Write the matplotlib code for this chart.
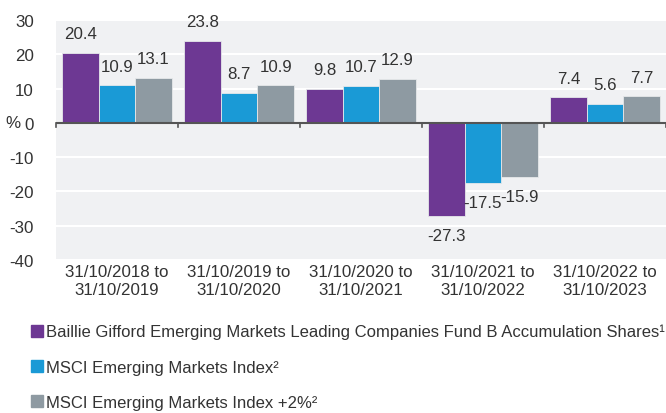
import matplotlib
matplotlib.use("Agg")
import matplotlib.pyplot as plt
from matplotlib.lines import Line2D
import numpy as np

plt.rcParams['font.family'] = ["Liberation Sans", 'DejaVu Sans']

periods = ["31/10/2018 to\n31/10/2019", "31/10/2019 to\n31/10/2020", "31/10/2020 to\n31/10/2021",
           "31/10/2021 to\n31/10/2022", "31/10/2022 to\n31/10/2023"]
fund = [20.4, 23.8, 9.8, -27.3, 7.4]
msci = [10.9, 8.7, 10.7, -17.5, 5.6]
msci2 = [13.1, 10.9, 12.9, -15.9, 7.7]
series_names = ["Baillie Gifford Emerging Markets Leading Companies Fund B Accumulation Shares\u00b9",
                "MSCI Emerging Markets Index\u00b2",
                "MSCI Emerging Markets Index +2%\u00b2"]
colors = ["#6d3893", "#1a9ad6", "#8e9aa2"]
yticks = [30, 20, 10, 0, -10, -20, -30, -40]

fig = plt.figure(figsize=(6.66, 4.14), dpi=100)
ax = fig.add_axes([56/666, (414-261)/414, 1-56/666, 240/414])
ax.set_facecolor("#f0f1f3")
x = np.arange(len(periods))
w = 0.30
fs = 12.2
tc = "#333333"
for i, (vals, c) in enumerate(zip([fund, msci, msci2], colors)):
    pos = x + (i - 1) * w
    ax.bar(pos, vals, w, color=c, edgecolor="#e6e8ea", linewidth=0.6, zorder=3)
    for p, v in zip(pos, vals):
        off = 14 if v >= 0 else -14
        ax.annotate(f"{v}", (p, v), xytext=(0, off), textcoords="offset points",
                    ha="center", va="center", fontsize=fs, color=tc, zorder=4)
ax.set_xlim(-0.5, len(periods) - 0.5)
ax.set_ylim(-40, 30)
ax.set_yticks(yticks)
ax.set_yticklabels([str(t) for t in yticks], fontsize=fs, color=tc)
ax.yaxis.grid(True, color="white", linewidth=1.5, zorder=0)
ax.set_axisbelow(True)
ax.tick_params(axis="y", length=0, pad=16)
for s in ax.spines.values():
    s.set_visible(False)
ax.axhline(0, color="#555555", linewidth=1.5, zorder=5)
for b in np.arange(-0.5, len(periods), 1.0):
    ax.plot([b, b], [0, -1.3], color="#555555", linewidth=1.2, zorder=5, clip_on=False)
ax.set_xticks(x)
ax.set_xticklabels(periods, fontsize=fs, color=tc, linespacing=1.2)
ax.tick_params(axis="x", length=0, pad=3)
ax.text(-0.07, 0, "%", transform=ax.get_yaxis_transform(), ha="center", va="center",
        fontsize=fs, color=tc)

handles = [Line2D([], [], marker="s", linestyle="none", markersize=8.5, color=c) for c in colors]
fig.legend(handles, series_names, loc="upper left", bbox_to_anchor=(32/666, 1 - 325/414),
           frameon=False, fontsize=11.95, handlelength=0.6, handletextpad=0.25,
           labelspacing=1.22, borderaxespad=0, borderpad=0, labelcolor=tc)
fig.savefig("out.png", dpi=100)
